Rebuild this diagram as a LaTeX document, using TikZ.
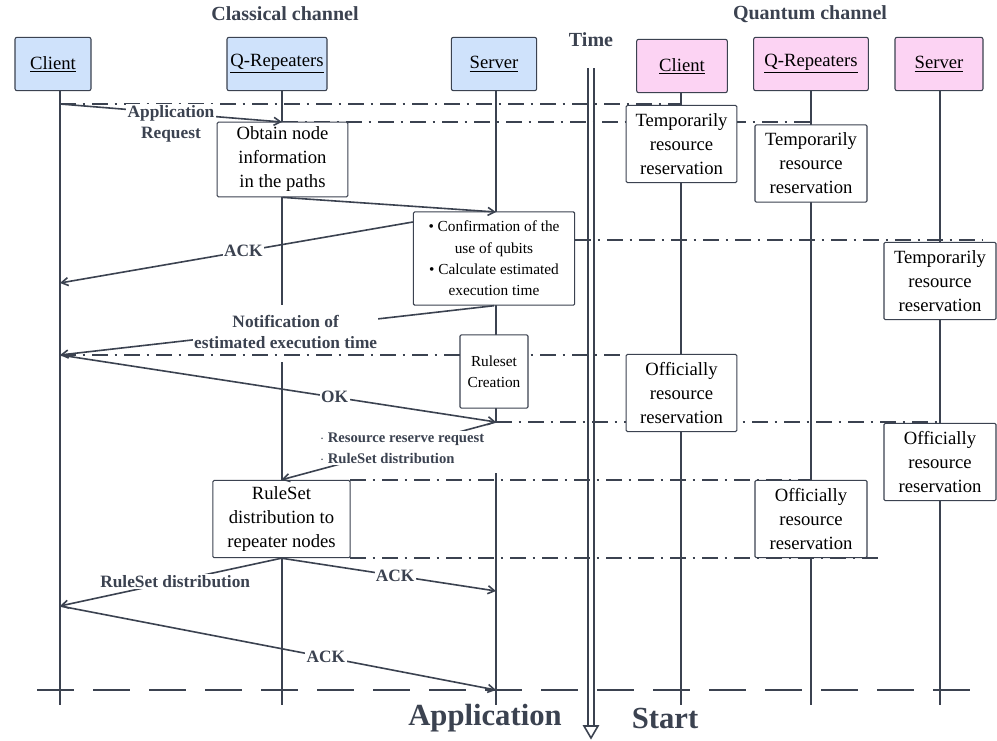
\documentclass[tikz,border=0pt]{standalone}
\usepackage{fontspec}
\setmainfont{Liberation Serif}
\usetikzlibrary{arrows.meta}
\definecolor{ln}{HTML}{3B4250}
\definecolor{blu}{HTML}{CFE2FB}
\definecolor{pnk}{HTML}{FCD3F3}
\begin{document}
\begin{tikzpicture}[x=0.75pt,y=-0.75pt,
  hdr/.style={draw=ln,rounded corners=1.5pt,line width=0.8pt,minimum height=40pt,inner sep=0pt,font=\fontsize{14}{16}\selectfont},
  box/.style={draw=ln,fill=white,rounded corners=1pt,line width=0.8pt,inner sep=0pt,align=center,font=\fontsize{14}{18}\selectfont},
  life/.style={draw=ln,line width=1.8pt},
  msg/.style={draw=ln,line width=1.2pt,-{Straight Barb[length=5pt,width=6pt]}},
  dd/.style={draw=ln,line width=1pt,dash pattern=on 12pt off 5pt on 2pt off 5pt},
  lab/.style={text=ln,font=\bfseries\fontsize{13}{16}\selectfont,fill=white,inner sep=1pt,align=center}]
\useasboundingbox (0,0) rectangle (997,740);
% headers
\node[hdr,fill=blu,minimum width=57pt] (cc) at (53,64) {\underline{Client}};
\node[hdr,fill=blu,minimum width=75pt] (cq) at (277,64) {\underline{Q-Repeaters}};
\node[hdr,fill=blu,minimum width=64pt] (cs) at (494,64) {\underline{Server}};
\node[hdr,fill=pnk,minimum width=68pt] (qc) at (682,66) {\underline{Client}};
\node[hdr,fill=pnk,minimum width=86pt] (qq) at (811,64) {\underline{Q-Repeaters}};
\node[hdr,fill=pnk,minimum width=66pt] (qs) at (939,64) {\underline{Server}};
\node[text=ln,font=\bfseries\fontsize{15}{18}\selectfont] (t1) at (285,14) {Classical channel};
\node[text=ln,font=\bfseries\fontsize{15}{18}\selectfont] (t2) at (810,14) {Quantum channel};
\node[text=ln,font=\bfseries\fontsize{15}{18}\selectfont] (tt) at (591,40) {Time};
% lifelines
\draw[life] (60,91) -- (60,705);
\draw[life] (282,91) -- (282,305) (282,362) -- (282,705);
\draw[life] (496,91) -- (496,422) (496,473) -- (496,705);
\draw[life] (681,93) -- (681,705);
\draw[life] (811,90) -- (811,705);
\draw[life] (940,90) -- (940,705);
% time arrow
\draw[ln,line width=1.5pt] (588,68) -- (588,728) (594,68) -- (594,728);
\draw[ln,line width=1.2pt,fill=white] (584,726) -- (598,726) -- (591,738) -- cycle;
% dash-dot lines
\draw[dd] (60,104) -- (681,104);
\draw[dd] (282,122) -- (811,122);
\draw[dd] (575,240) -- (982,240);
\draw[dd] (60,355) -- (681,355);
\draw[dd] (496,422) -- (940,422);
\draw[dd] (350,480) -- (811,480);
\draw[dd] (350,558) -- (880,558);
\draw[draw=ln,line width=1.2pt,dash pattern=on 28pt off 14pt] (37,690) -- (975,690);
% classical boxes
\node[box,minimum width=98pt,minimum height=56pt] (b1) at (282.5,159.5) {Obtain node\\information\\in the paths};
\node[box,minimum width=121pt,minimum height=70pt,font=\fontsize{11.5}{16}\selectfont] (b2) at (494,258.5) {\textbullet\ Confirmation of the\\use of qubits\\\textbullet\ Calculate estimated\\execution time};
\node[box,minimum width=51pt,minimum height=55pt,font=\fontsize{11.5}{16}\selectfont] (b3) at (494,371.5) {Ruleset\\Creation};
\node[box,minimum width=103pt,minimum height=58pt] (b4) at (281.5,519) {RuleSet\\distribution to\\repeater nodes};
% quantum boxes
\node[box,minimum width=83pt,minimum height=58pt] (q1) at (681.5,144) {Temporarily\\resource\\reservation};
\node[box,minimum width=84pt,minimum height=58pt] (q2) at (811,163.5) {Temporarily\\resource\\reservation};
\node[box,minimum width=84pt,minimum height=58pt] (q3) at (940,281) {Temporarily\\resource\\reservation};
\node[box,minimum width=83pt,minimum height=58pt] (q4) at (681.5,393) {Officially\\resource\\reservation};
\node[box,minimum width=84pt,minimum height=58pt] (q5) at (940,462) {Officially\\resource\\reservation};
\node[box,minimum width=84pt,minimum height=58pt] (q6) at (811,519) {Officially\\resource\\reservation};
% anchor coordinates
\coordinate (c1) at (60,104); \coordinate (r1) at (282,122);
\coordinate (s1) at (496,212); \coordinate (c2) at (60,283);
\coordinate (c3) at (60,355); \coordinate (s2) at (496,422);
\coordinate (s3) at (496,591); \coordinate (c4) at (60,606);
\coordinate (s4) at (496,690);
% messages
\draw[msg] (c1) -- node[lab,pos=0.5,yshift=-8pt]{Application\\Request} (r1);
\draw[msg] (b1.south) -- (s1);
\draw[msg] (b2.west|-222,222) -- node[lab,pos=0.48]{ACK} (c2);
\draw[msg] (b2.south) -- node[lab,pos=0.48,yshift=-2pt]{Notification of\\estimated execution time} (c3);
\draw[msg] (c3) -- node[lab,pos=0.63]{OK} (s2);
\draw[msg] (s2) -- node[lab,pos=0.45,align=left,font=\bfseries\fontsize{11}{16}\selectfont,xshift=2pt]{$\cdot$ Resource reserve request\\$\cdot$ RuleSet distribution} (b4.north);
\draw[msg] (b4.south) -- node[lab,pos=0.53]{ACK} (s3);
\draw[msg] (b4.south) -- node[lab,pos=0.48]{RuleSet distribution} (c4);
\draw[msg] (c4) -- node[lab,pos=0.61]{ACK} (s4);
% bottom labels
\node[text=ln,font=\bfseries\fontsize{23}{26}\selectfont] (ap) at (485,718) {Application};
\node[text=ln,font=\bfseries\fontsize{23}{26}\selectfont] (st) at (665,718) {Start};
\end{tikzpicture}
\end{document}
